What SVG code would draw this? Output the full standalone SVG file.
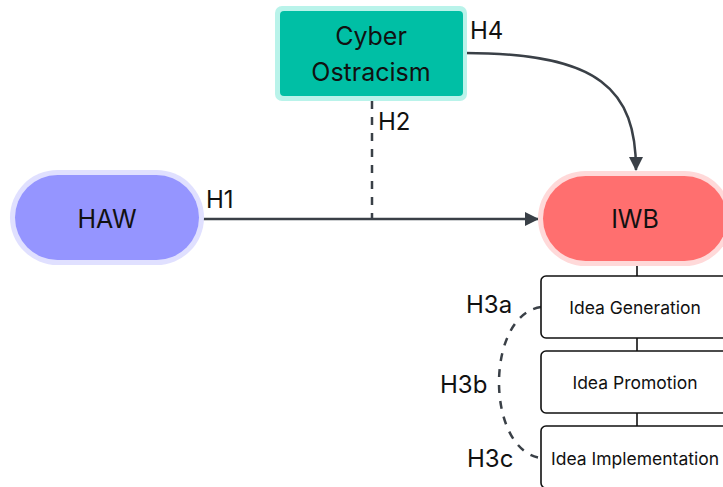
<svg xmlns="http://www.w3.org/2000/svg" width="723" height="487" viewBox="0 0 723 487">
<style>
text{font-family:Inter,"Liberation Sans",sans-serif;fill:#111;}
.big{font-size:25px;text-anchor:middle;dominant-baseline:central;}
.lbl{font-size:24px;}
.box{font-size:17.5px;text-anchor:middle;dominant-baseline:central;}
.ln{stroke:#3A4047;stroke-width:2.5;fill:none;}
.dash{stroke:#3A4047;stroke-width:2.5;fill:none;stroke-dasharray:8 8;}
.sub{fill:#fff;stroke:#111;stroke-width:1.6;}
.thin{stroke:#111;stroke-width:1.6;}
</style>
<defs>
<marker id="arr" markerWidth="14" markerHeight="14" refX="13" refY="7" orient="auto" markerUnits="userSpaceOnUse">
<path d="M0,0 L14,7 L0,14 Z" fill="#3A4047"/>
</marker>
</defs>
<rect width="723" height="487" fill="#fff"/>
<g id="connectors">
<path class="ln" d="M203,219 L538,219" marker-end="url(#arr)"/>
<path class="ln" d="M465,53 C600,53 636,90 636,170" marker-end="url(#arr)"/>
<path class="dash" d="M372,101 L372,218"/>
<path class="thin" d="M637,262 L637,276 M637,338 L637,351 M637,413 L637,426"/>
<path class="dash" d="M541,307 C485,315 485,450 541,458"/>
<text class="lbl" x="206" y="208">H1</text>
<text class="lbl" x="378" y="130">H2</text>
<text class="lbl" x="470" y="39">H4</text>
<text class="lbl" x="466" y="313">H3a</text>
<text class="lbl" x="440" y="393">H3b</text>
<text class="lbl" x="467" y="467">H3c</text>
</g>
<g id="cyber">
<rect x="275" y="6" width="192" height="95" rx="7" fill="#B9F3EA"/>
<rect x="280" y="11" width="183" height="85" rx="4" fill="#00BFA5"/>
<text class="big" x="371" y="36">Cyber</text>
<text class="big" x="371" y="72">Ostracism</text>
</g>
<g id="haw">
<rect x="10" y="170" width="194" height="95" rx="47.5" fill="#E0E0FF"/>
<rect x="15" y="175" width="184" height="85" rx="42.5" fill="#9595FF"/>
<text class="big" x="107" y="219">HAW</text>
</g>
<g id="iwb">
<rect x="538" y="171" width="194" height="95" rx="47.5" fill="#FFD9D9"/>
<rect x="543" y="176" width="184" height="85" rx="42.5" fill="#FF6F6F"/>
<text class="big" x="635" y="219">IWB</text>
</g>
<g id="gen">
<rect class="sub" x="541" y="276" width="190" height="62" rx="5"/>
<text class="box" x="635" y="307">Idea Generation</text>
</g>
<g id="prom">
<rect class="sub" x="541" y="351" width="190" height="62" rx="5"/>
<text class="box" x="635" y="382">Idea Promotion</text>
</g>
<g id="impl">
<rect class="sub" x="541" y="426" width="190" height="62" rx="5"/>
<text class="box" x="635" y="458">Idea Implementation</text>
</g>
</svg>
